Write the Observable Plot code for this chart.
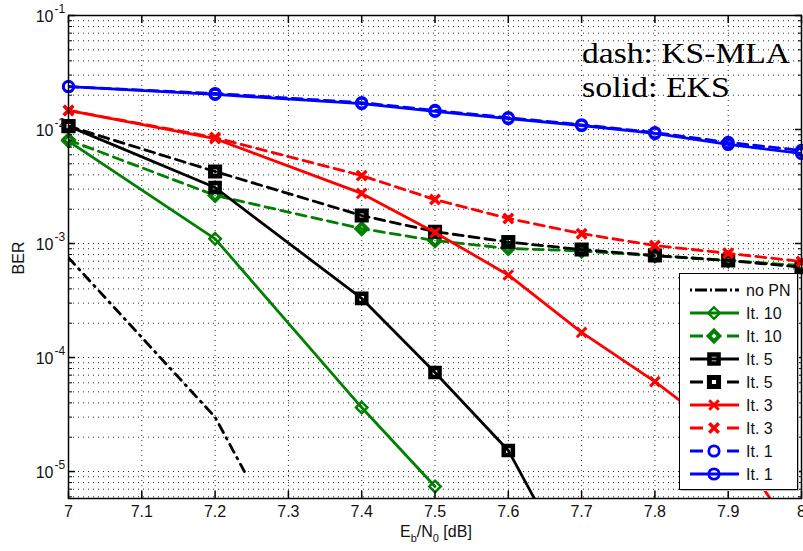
<!DOCTYPE html>
<html><head><meta charset="utf-8">
<script src="https://cdn.jsdelivr.net/npm/d3@7"></script>
<script src="https://cdn.jsdelivr.net/npm/@observablehq/plot@0.6"></script>
<style>
html,body{margin:0;padding:0;background:#fff;}
#chart{position:relative;width:803px;height:551px;overflow:hidden;}
</style></head><body><div id="chart"></div>
<script>
// ---------- data ----------
const xTicks = [7.0, 7.1, 7.2, 7.3, 7.4, 7.5, 7.6, 7.7, 7.8, 7.9, 8.0];
const xTickLabels = ["7", "7.1", "7.2", "7.3", "7.4", "7.5", "7.6", "7.7", "7.8", "7.9", "8"];
const yMajorTicks = [1e-5, 1e-4, 1e-3, 1e-2, 1e-1];
const yExponents = ["-5", "-4", "-3", "-2", "-1"];
const yDomain = [5.8e-6, 0.1];

const snrFull = [7.0, 7.2, 7.4, 7.5, 7.6, 7.7, 7.8, 7.9, 8.0];

const noPnSnr = [7.0, 7.1, 7.2, 7.24];
const noPnBer = [7.5e-4, 1.5e-4, 3.0e-5, 1.0e-5];

const it10EksSnr = [7.0, 7.2, 7.4, 7.5];
const it10EksBer = [7.9e-3, 1.1e-3, 3.64e-5, 7.4e-6];
const it10KsBer = [8.1e-3, 2.64e-3, 1.35e-3, 1.06e-3, 9.05e-4, 8.6e-4, 7.8e-4, 7.1e-4, 6.4e-4];

const it5EksSnr = [7.0, 7.2, 7.4, 7.5, 7.6, 7.7];
const it5EksBer = [1.07e-2, 3.1e-3, 3.3e-4, 7.4e-5, 1.53e-5, 1.0e-6];
const it5KsBer = [1.07e-2, 4.28e-3, 1.76e-3, 1.27e-3, 1.03e-3, 8.85e-4, 7.85e-4, 7.1e-4, 6.2e-4];

const it3EksBer = [1.47e-2, 8.3e-3, 2.75e-3, 1.25e-3, 5.3e-4, 1.66e-4, 6.15e-5, 2.0e-5, 2.3e-6];
const it3KsBer = [1.47e-2, 8.5e-3, 3.94e-3, 2.43e-3, 1.66e-3, 1.22e-3, 9.6e-4, 8.2e-4, 6.95e-4];

const it1KsBer = [2.38e-2, 2.07e-2, 1.72e-2, 1.47e-2, 1.27e-2, 1.10e-2, 9.4e-3, 7.7e-3, 6.55e-3];
const it1EksBer = [2.38e-2, 2.03e-2, 1.69e-2, 1.44e-2, 1.248e-2, 1.084e-2, 9.23e-3, 7.39e-3, 6.16e-3];

const legendLabels = ["no PN", "It. 10", "It. 10", "It. 5", "It. 5", "It. 3", "It. 3", "It. 1", "It. 1"];
const annotationLines = ["dash: KS-MLA", "solid: EKS"];

// ---------- styling ----------
const GREEN = "#008000", RED = "#ff0000", BLUE = "#0000ff", BLACK = "#000000";
const DASH = "10,6";
const series = [
  {x: noPnSnr, y: noPnBer, color: BLACK, dash: "9,6,1.5,6", symbol: null, legendDash: "2,3,12,3"},
  {x: it10EksSnr, y: it10EksBer, color: GREEN, dash: null, symbol: "diamond2", r: 5.2, sw: 2.4},
  {x: snrFull, y: it10KsBer, color: GREEN, dash: DASH, symbol: "diamond2", r: 4.8, sw: 4, legendDash: "13,24"},
  {x: it5EksSnr, y: it5EksBer, color: BLACK, dash: null, symbol: "square2", r: 5.8, sw: 4.5},
  {x: snrFull, y: it5KsBer, color: BLACK, dash: DASH, symbol: "square2", r: 5.8, sw: 5, legendDash: "13,24"},
  {x: snrFull, y: it3EksBer, color: RED, dash: null, symbol: "times", r: 4.4, sw: 3},
  {x: snrFull, y: it3KsBer, color: RED, dash: DASH, symbol: "times", r: 4.4, sw: 3.5, legendDash: "13,24"},
  {x: snrFull, y: it1KsBer, color: BLUE, dash: DASH, symbol: "circle", r: 5.2, sw: 2.8, legendDash: "13,24"},
  {x: snrFull, y: it1EksBer, color: BLUE, dash: null, symbol: "circle", r: 5.2, sw: 2.8}
];

// minor log ticks derived from the decades
const yMinorTicks = [];
for (const m of [1e-6, 1e-5, 1e-4, 1e-3, 1e-2]) for (let k = 2; k <= 9; k++) {
  const v = k * m; if (v >= yDomain[0] && v <= yDomain[1]) yMinorTicks.push(v);
}
const yGrid = yMinorTicks.concat(yMajorTicks);
const xGrid = xTicks.slice(1, -1);

const FONT = "'Liberation Sans', Arial, sans-serif";
const gridStyle = {stroke: "#000", strokeOpacity: 0.85, strokeWidth: 1, strokeDasharray: "1,4"};

const marks = [
  Plot.ruleY(yGrid, {y: d => d, ...gridStyle}),
  Plot.ruleX(xGrid, {x: d => d, ...gridStyle}),
];

series.forEach(s => {
  const rows = s.x.map((x, i) => ({x, y: s.y[i]}));
  marks.push(Plot.line(rows, {x: "x", y: "y", stroke: s.color, strokeWidth: 2.8,
    strokeDasharray: s.dash ?? undefined, clip: true}));
  if (s.symbol) {
    marks.push(Plot.dot(rows.filter(d => d.y >= yDomain[0] && d.y <= yDomain[1]),
      {x: "x", y: "y", symbol: s.symbol, r: s.r, stroke: s.color, strokeWidth: s.sw, fill: "none"}));
  }
});

marks.push(
  Plot.frame({stroke: "#000", strokeWidth: 1.5}),
  Plot.axisX(xTicks, {anchor: "bottom", tickSize: -7, tickPadding: 14, strokeWidth: 1.5,
    tickFormat: d => xTickLabels[xTicks.indexOf(d)], fontSize: 16, fill: "#111"}),
  Plot.axisX(xTicks, {anchor: "top", tickSize: -7, strokeWidth: 1.5, tickFormat: () => ""}),
  Plot.axisY(yMajorTicks, {anchor: "left", tickSize: -7, strokeWidth: 1.5, tickFormat: () => ""}),
  Plot.axisY(yMinorTicks, {anchor: "left", tickSize: -4, tickFormat: () => ""}),
  Plot.axisY(yMajorTicks, {anchor: "right", tickSize: -7, strokeWidth: 1.5, tickFormat: () => ""}),
  Plot.axisY(yMinorTicks, {anchor: "right", tickSize: -4, tickFormat: () => ""}),
  Plot.text(yMajorTicks, {y: d => d, frameAnchor: "left", text: () => "10", textAnchor: "end",
    dx: -15, dy: 1.5, fontSize: 16, fill: "#111"}),
  Plot.text(yMajorTicks, {y: d => d, frameAnchor: "left", text: (d, i) => yExponents[i], textAnchor: "start",
    dx: -14, dy: -6, fontSize: 12, fill: "#111"})
);

const svgEl = Plot.plot({
  width: 803, height: 551,
  marginLeft: 68, marginRight: 2, marginTop: 15, marginBottom: 53,
  x: {domain: [7, 8], label: null},
  y: {type: "log", domain: yDomain, label: null},
  style: {fontFamily: FONT, fontSize: "16px", background: "#fff", color: "#000", overflow: "hidden"},
  marks
});
document.getElementById("chart").appendChild(svgEl);

// ---------- overlay texts and legend ----------
const svg = d3.select(svgEl);

const xl = svg.append("text").attr("x", 400).attr("y", 537).attr("font-size", 16)
  .attr("text-anchor", "start").attr("font-family", FONT).attr("fill", "#111").style("white-space", "pre");
xl.append("tspan").text("E");
xl.append("tspan").attr("dy", 5).attr("font-size", 11).text("b");
xl.append("tspan").attr("dy", -5).text("/N");
xl.append("tspan").attr("dy", 5).attr("font-size", 11).text("0");
xl.append("tspan").attr("dy", -5).text(" [dB]");

svg.append("text").attr("transform", "translate(24,258) rotate(-90)").attr("text-anchor", "middle")
  .attr("font-size", 16).attr("font-family", FONT).attr("fill", "#111").text("BER");

const annLen = [208, 148];
annotationLines.forEach((t, i) => {
  svg.append("text").attr("x", 582).attr("y", 63 + 34 * i).attr("text-anchor", "start")
    .attr("font-family", "'Liberation Serif', 'Times New Roman', serif").attr("font-size", 29)
    .attr("textLength", annLen[i]).attr("lengthAdjust", "spacingAndGlyphs")
    .attr("fill", "#000").text(t);
});

const lg = svg.append("g");
lg.append("rect").attr("x", 681).attr("y", 275).attr("width", 118).attr("height", 216)
  .attr("fill", "#bbb").attr("stroke", "none");
lg.append("rect").attr("x", 679.5).attr("y", 273.5).attr("width", 118).attr("height", 216)
  .attr("fill", "#fff").attr("stroke", "#000").attr("stroke-width", 1);
const symMap = {diamond2: d3.symbolDiamond2, square2: d3.symbolSquare2, times: d3.symbolTimes, circle: d3.symbolCircle};
series.forEach((s, i) => {
  const yy = 290 + 23 * i;
  lg.append("line").attr("x1", 690).attr("x2", 739).attr("y1", yy).attr("y2", yy)
    .attr("stroke", s.color).attr("stroke-width", 2.8)
    .attr("stroke-dasharray", s.legendDash ?? null);
  if (s.symbol) {
    lg.append("path").attr("transform", `translate(714,${yy})`)
      .attr("d", d3.symbol(symMap[s.symbol], Math.PI * s.r * s.r)())
      .attr("fill", "none").attr("stroke", s.color).attr("stroke-width", s.sw);
  }
  lg.append("text").attr("x", 746).attr("y", yy + 6).attr("font-size", 16).attr("text-anchor", "start")
    .attr("font-family", FONT).attr("fill", "#111").text(legendLabels[i]);
});
</script></body></html>
